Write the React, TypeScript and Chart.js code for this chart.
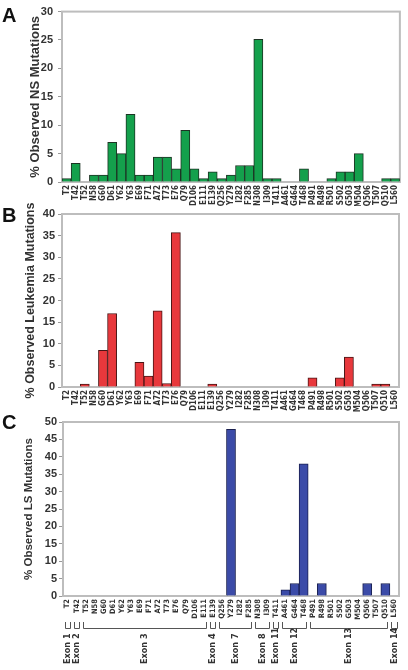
import React, { useEffect, useRef } from 'react';
import { Chart, registerables } from 'chart.js';
Chart.register(...registerables);

const categories = ['T2','T42','T52','N58','G60','D61','Y62','Y63','E69','F71','A72','T73','E76','Q79','D106','E111','E139','Q256','Y279','I282','F285','N308','I309','T411','A461','G464','T468','P491','R498','R501','S502','G503','M504','Q506','T507','Q510','L560'];

const nsValues = [0.6,3.3,null,1.2,1.2,7.0,5.0,11.9,1.2,1.2,4.4,4.4,2.3,9.1,2.3,0.6,1.8,0.6,1.2,2.9,2.9,25.1,0.6,0.6,null,null,2.3,null,null,0.6,1.8,1.8,5.0,null,null,0.6,0.6];

const leukemiaValues = [null,null,0.7,null,8.5,17.0,null,null,5.7,2.5,17.6,0.8,35.7,null,null,null,0.7,null,null,null,null,null,null,null,null,null,null,2.1,null,null,2.1,6.9,null,null,0.7,0.7,null];

const lsValues = [null,null,null,null,null,null,null,null,null,null,null,null,null,null,null,null,null,null,47.9,null,null,null,null,null,1.8,3.6,38.0,null,3.6,null,null,null,null,3.6,null,3.6,null];

const exonNames = ['Exon 1','Exon 2','Exon 3','Exon 4','Exon 7','Exon 8','Exon 11','Exon 12','Exon 13','Exon 14'];
const exonFirst = ['T2','T42','T52','E139','Q256','N308','T411','A461','P491','L560'];
const exonLast = ['T2','T42','E111','E139','F285','I309','T411','T468','Q510','L560'];

const NARROW = "'Liberation Sans Narrow', 'DejaVu Sans Condensed', 'Liberation Sans', Arial, sans-serif";
const SANS = "'Liberation Sans', Arial, sans-serif";
const TEXT = '#333333';

const boxPlugin = {
  id: 'plotBox',
  beforeDatasetsDraw(chart: any) {
    const { ctx, chartArea: a } = chart;
    ctx.save();
    ctx.strokeStyle = '#bdbdbd';
    ctx.lineWidth = 2;
    ctx.strokeRect(a.left, a.top, a.right - a.left, a.bottom - a.top);
    ctx.restore();
  },
};

const yTitlePlugin = {
  id: 'yTitle',
  afterDraw(chart: any, _args: any, opts: any) {
    const { ctx, chartArea: a } = chart;
    ctx.save();
    ctx.translate(opts.x, (a.top + a.bottom) / 2);
    ctx.rotate(-Math.PI / 2);
    ctx.font = `bold ${opts.size}px ${SANS}`;
    ctx.fillStyle = TEXT;
    ctx.textAlign = 'center';
    ctx.textBaseline = 'middle';
    ctx.fillText(opts.text, 0, 0);
    ctx.restore();
  },
};

const exonPlugin = {
  id: 'exonBrackets',
  afterDraw(chart: any) {
    const x = chart.scales.x;
    const ctx = chart.ctx;
    const bottom = chart.chartArea.bottom;
    const half = (x.getPixelForValue(1) - x.getPixelForValue(0)) / 2;
    ctx.save();
    ctx.strokeStyle = '#555';
    ctx.lineWidth = 1;
    exonNames.forEach((name, k) => {
      const i0 = categories.indexOf(exonFirst[k]);
      const i1 = categories.indexOf(exonLast[k]);
      const x0 = Math.round(x.getPixelForValue(i0) - half + 1.5) + 0.5;
      const x1 = Math.round(x.getPixelForValue(i1) + half - 1.5) - 0.5;
      const yt = bottom + 26;
      const yb = bottom + 32.5;
      ctx.beginPath();
      ctx.moveTo(x0, yt);
      ctx.lineTo(x0, yb);
      ctx.lineTo(x1, yb);
      ctx.lineTo(x1, yt);
      ctx.stroke();
      ctx.save();
      ctx.translate((x0 + x1) / 2, bottom + 68);
      ctx.rotate(-Math.PI / 2);
      ctx.font = `bold 9px ${NARROW}`;
      ctx.fillStyle = TEXT;
      ctx.textAlign = 'left';
      ctx.textBaseline = 'middle';
      ctx.fillText(name, 0, 0);
      ctx.restore();
    });
    ctx.restore();
  },
};

type PanelProps = {
  top: number;
  height: number;
  values: (number | null)[];
  color: string;
  border: string;
  yMax: number;
  title: string;
  titleSize: number;
  titleX: number;
  tickSize: number;
  tickPad: number;
  xTickSize: number;
  padTop: number;
  padRight: number;
  yWidth: number;
  xHeight: number;
  exons?: boolean;
};

function BarPanel(p: PanelProps) {
  const ref = useRef<HTMLCanvasElement>(null);
  useEffect(() => {
    if (!ref.current) return;
    const chart = new Chart(ref.current, {
      type: 'bar',
      data: {
        labels: categories,
        datasets: [
          {
            data: p.values as any,
            backgroundColor: p.color,
            borderColor: p.border,
            borderWidth: 1,
            barPercentage: 1,
            categoryPercentage: 1,
          },
        ],
      },
      options: {
        responsive: false,
        animation: false,
        devicePixelRatio: 1,
        layout: { padding: { top: p.padTop, right: p.padRight, left: 0, bottom: 0 } },
        plugins: {
          legend: { display: false },
          tooltip: { enabled: false },
          yTitle: { text: p.title, size: p.titleSize, x: p.titleX },
        },
        scales: {
          x: {
            grid: { display: false, drawTicks: false },
            border: { display: false },
            ticks: {
              autoSkip: false,
              minRotation: 90,
              maxRotation: 90,
              padding: 3,
              color: TEXT,
              font: { family: NARROW, size: p.xTickSize, weight: 'bold' },
            },
            afterFit: (s: any) => { s.height = p.xHeight; },
          },
          y: {
            min: 0,
            max: p.yMax,
            grid: { display: true, drawOnChartArea: false, drawTicks: true, tickLength: 4, color: '#999' },
            border: { display: false },
            ticks: {
              stepSize: 5,
              padding: p.tickPad,
              color: TEXT,
              font: { family: SANS, size: p.tickSize, weight: 'bold' },
            },
            afterFit: (s: any) => { s.width = p.yWidth; },
          },
        },
      },
      plugins: p.exons ? [boxPlugin, yTitlePlugin, exonPlugin] : [boxPlugin, yTitlePlugin],
    } as any);
    return () => chart.destroy();
  }, []);
  return (
    <div style={{ position: 'absolute', left: 0, top: p.top, width: 408, height: p.height }}>
      <canvas ref={ref} width={408} height={p.height} style={{ display: 'block' }} />
    </div>
  );
}

const letterStyle: React.CSSProperties = {
  position: 'absolute',
  left: 2,
  fontFamily: SANS,
  fontWeight: 'bold',
  fontSize: 20,
  lineHeight: '20px',
  color: '#111',
};

export default function App() {
  return (
    <div style={{ position: 'absolute', left: 0, top: 0, width: 408, height: 670, background: '#fff', overflow: 'hidden' }}>
      <BarPanel top={0} height={206} values={nsValues} color="#14a04c" border="#1d3324" yMax={30}
        title="% Observed NS Mutations" titleSize={13} titleX={35.5} tickSize={11} tickPad={5}
        xTickSize={8} padTop={8} padRight={7} yWidth={62} xHeight={24} />
      <BarPanel top={194} height={218} values={leukemiaValues} color="#e8383c" border="#4a1515" yMax={40}
        title="% Observed Leukemia Mutations" titleSize={12.5} titleX={31} tickSize={11} tickPad={3}
        xTickSize={8} padTop={20} padRight={9} yWidth={62} xHeight={25} />
      <BarPanel top={412} height={258} values={lsValues} color="#3b4ba8" border="#1a2050" yMax={50}
        title="% Observed LS Mutations" titleSize={11.5} titleX={29} tickSize={11} tickPad={2}
        xTickSize={7.5} padTop={10} padRight={9} yWidth={63} xHeight={74} exons />
      <div style={{ ...letterStyle, top: 5 }}>A</div>
      <div style={{ ...letterStyle, top: 205 }}>B</div>
      <div style={{ ...letterStyle, top: 412 }}>C</div>
    </div>
  );
}
